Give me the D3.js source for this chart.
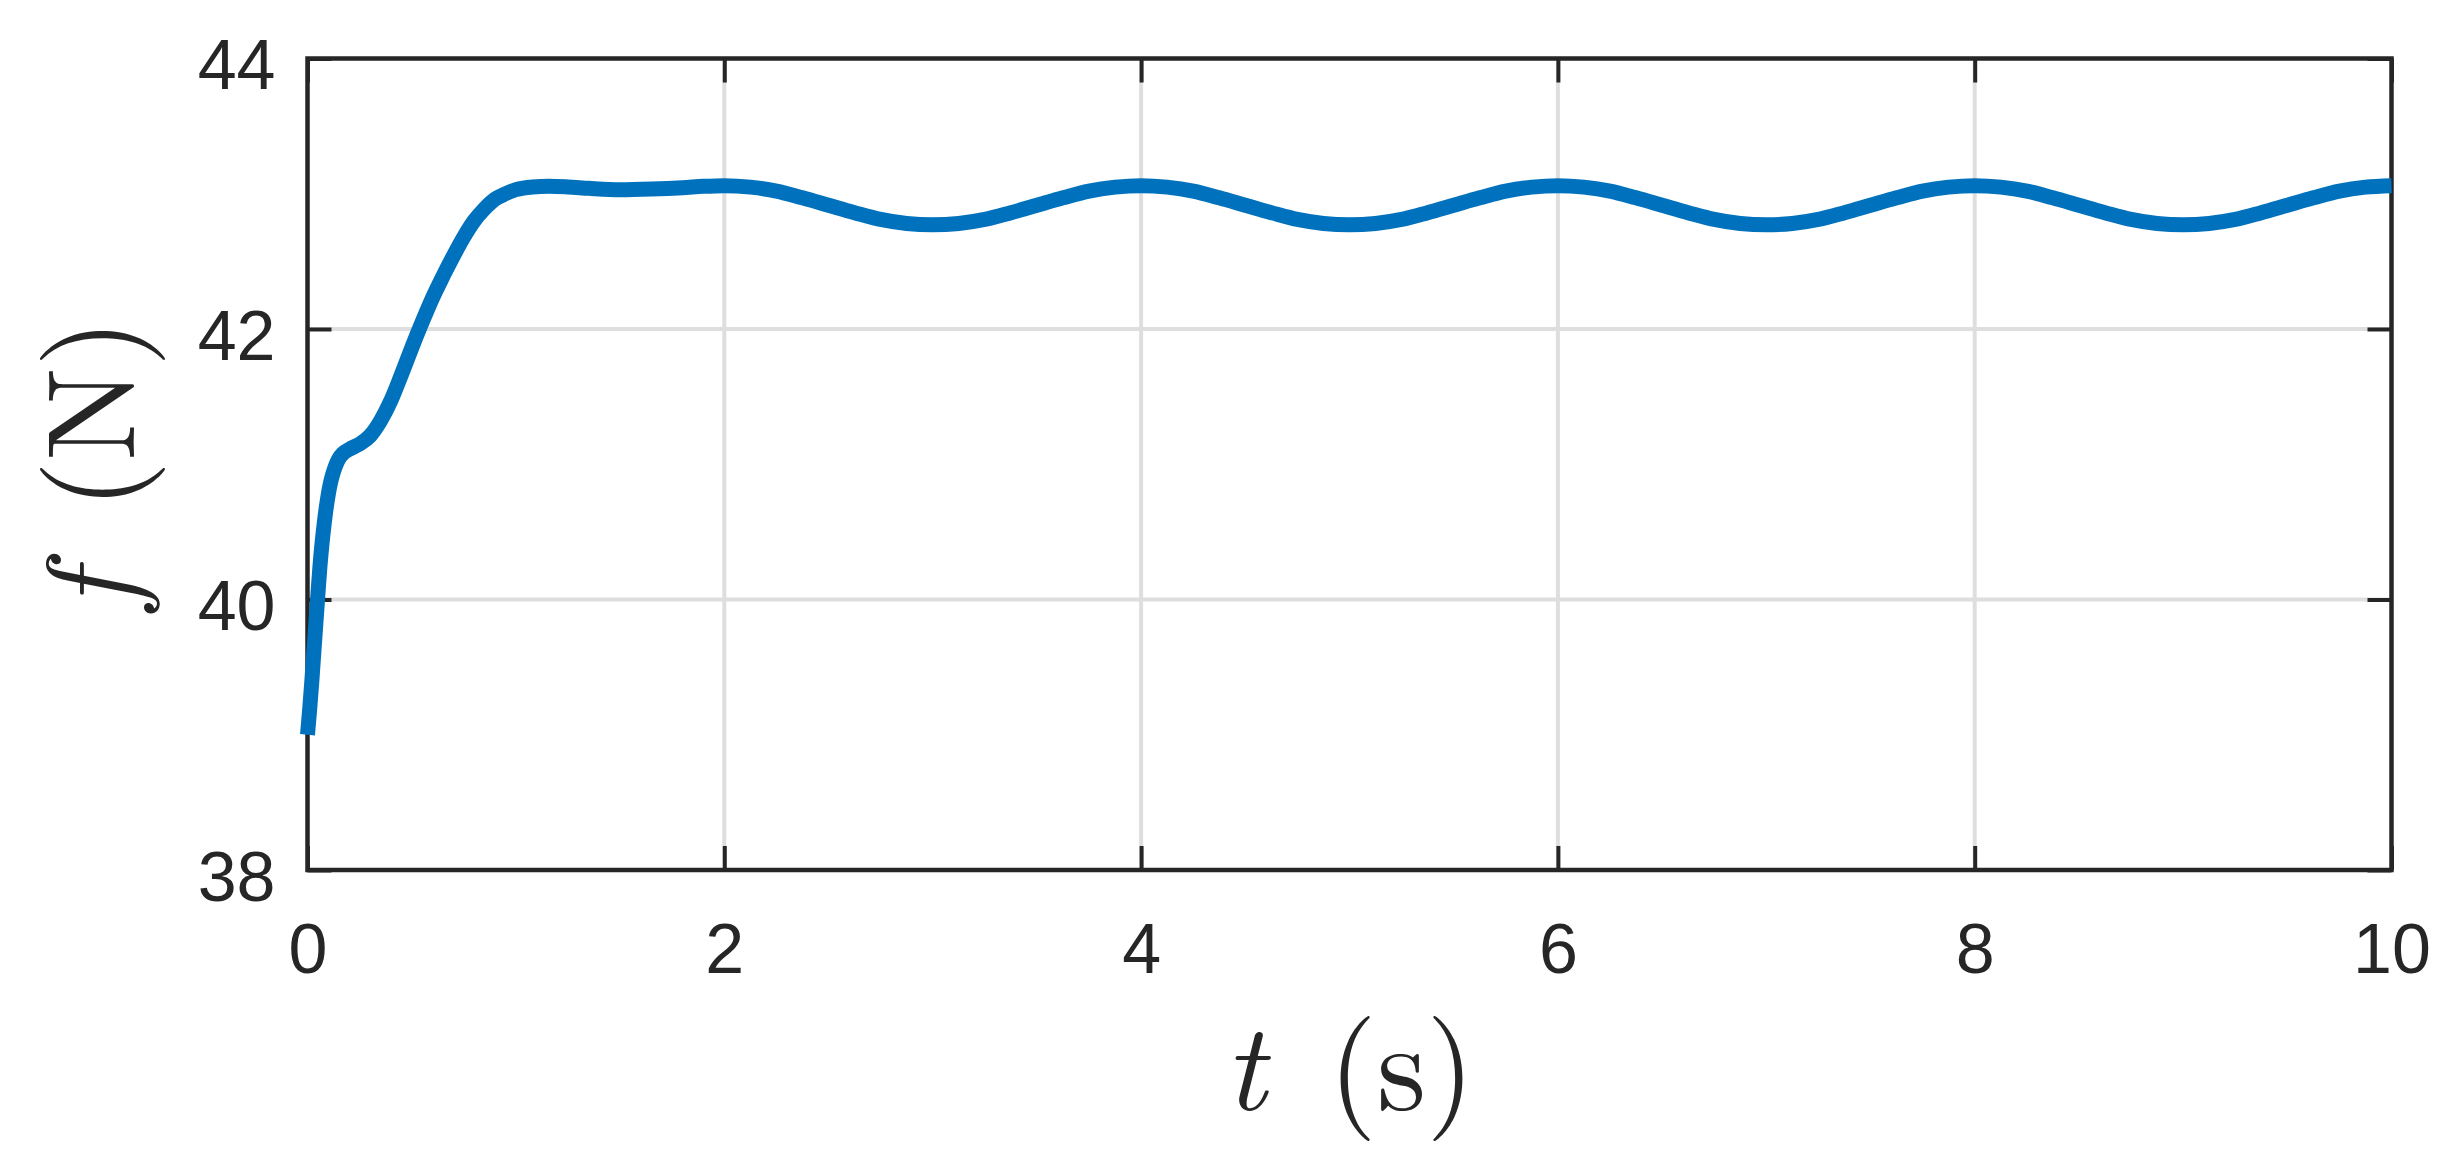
<!DOCTYPE html>
<html>
<head>
<meta charset="utf-8">
<script src="https://cdn.jsdelivr.net/npm/d3@7"></script>
<style>
  html, body { margin: 0; padding: 0; background: #fff; }
  svg { display: block; }
</style>
</head>
<body>
<svg id="chart" width="2457" height="1170"></svg>
<script>
// ---- data ----
const timeS = [
  0, 0.01, 0.02, 0.03, 0.04, 0.05, 0.06, 0.07, 0.08, 0.09, 0.10, 0.11, 0.12, 0.135, 0.15, 0.17,
  0.20, 0.25, 0.30, 0.35, 0.40, 0.45, 0.50, 0.55, 0.60, 0.65, 0.70, 0.75, 0.80, 0.85, 0.90, 0.95,
  1.00, 1.08, 1.16, 1.25, 1.35, 1.5, 1.65, 1.8, 1.9,
  2.0, 2.125, 2.25, 2.375, 2.5, 2.625, 2.75, 2.875,
  3.0, 3.125, 3.25, 3.375, 3.5, 3.625, 3.75, 3.875,
  4.0, 4.125, 4.25, 4.375, 4.5, 4.625, 4.75, 4.875,
  5.0, 5.125, 5.25, 5.375, 5.5, 5.625, 5.75, 5.875,
  6.0, 6.125, 6.25, 6.375, 6.5, 6.625, 6.75, 6.875,
  7.0, 7.125, 7.25, 7.375, 7.5, 7.625, 7.75, 7.875,
  8.0, 8.125, 8.25, 8.375, 8.5, 8.625, 8.75, 8.875,
  9.0, 9.125, 9.25, 9.375, 9.5, 9.625, 9.75, 9.875,
  10.0
];
const forceN = [
  39.0, 39.18, 39.38, 39.6, 39.82, 40.04, 40.25, 40.42, 40.56, 40.68, 40.78, 40.86, 40.92, 40.99, 41.04, 41.08,
  41.11, 41.15, 41.21, 41.32, 41.47, 41.66, 41.86, 42.05, 42.23, 42.39, 42.54, 42.68, 42.80, 42.89, 42.96, 43.00,
  43.03, 43.05, 43.055, 43.05, 43.04, 43.03, 43.035, 43.045, 43.055,
  43.06, 43.049, 43.02, 42.97, 42.915, 42.86, 42.81, 42.78,
  42.77, 42.78, 42.81, 42.86, 42.915, 42.97, 43.02, 43.049,
  43.06, 43.049, 43.02, 42.97, 42.915, 42.86, 42.81, 42.78,
  42.77, 42.78, 42.81, 42.86, 42.915, 42.97, 43.02, 43.049,
  43.06, 43.049, 43.02, 42.97, 42.915, 42.86, 42.81, 42.78,
  42.77, 42.78, 42.81, 42.86, 42.915, 42.97, 43.02, 43.049,
  43.06, 43.049, 43.02, 42.97, 42.915, 42.86, 42.81, 42.78,
  42.77, 42.78, 42.81, 42.86, 42.915, 42.97, 43.02, 43.049,
  43.06
];
const xTicks = [0, 2, 4, 6, 8, 10];
const yTicks = [38, 40, 42, 44];
const xDomain = [0, 10];
const yDomain = [38, 44];

// ---- layout ----
const pLeft = 307.5, pRight = 2391.5, pTop = 58.5, pBottom = 870;
const axisColor = "#262626";
const gridColor = "#dedede";
const lineColor = "#0072BD";
const tickLen = 24;

const svg = d3.select("#chart");
svg.append("rect").attr("width", 2457).attr("height", 1170).attr("fill", "#fff");

const x = d3.scaleLinear().domain(xDomain).range([pLeft, pRight]);
const y = d3.scaleLinear().domain(yDomain).range([pBottom, pTop]);

// grid
const grid = svg.append("g");
grid.selectAll("line.gx").data(xTicks.filter(d => d > xDomain[0] && d < xDomain[1]))
  .join("line").attr("class", "gx")
  .attr("x1", d => x(d)).attr("x2", d => x(d))
  .attr("y1", pTop).attr("y2", pBottom)
  .attr("stroke", gridColor).attr("stroke-width", 4);
grid.selectAll("line.gy").data(yTicks.filter(d => d > yDomain[0] && d < yDomain[1]))
  .join("line").attr("class", "gy")
  .attr("x1", pLeft).attr("x2", pRight)
  .attr("y1", d => y(d)).attr("y2", d => y(d))
  .attr("stroke", gridColor).attr("stroke-width", 4);

function styleAxis(g) {
  g.select(".domain").remove();
  g.selectAll(".tick line").attr("stroke", axisColor).attr("stroke-width", 4);
  g.selectAll(".tick text")
    .attr("fill", axisColor)
    .attr("font-family", "'Liberation Sans', Arial, Helvetica, sans-serif")
    .attr("font-size", 70);
}

const xAxisB = svg.append("g").attr("transform", `translate(0,${pBottom})`)
  .call(d3.axisBottom(x).tickValues(xTicks).tickSize(-tickLen).tickPadding(0).tickFormat(d3.format("d")));
styleAxis(xAxisB);
xAxisB.selectAll(".tick text").attr("dy", null).attr("y", 103);

const xAxisT = svg.append("g").attr("transform", `translate(0,${pTop})`)
  .call(d3.axisTop(x).tickValues(xTicks).tickSize(-tickLen).tickFormat(""));
styleAxis(xAxisT);

const yAxisL = svg.append("g").attr("transform", `translate(${pLeft},0)`)
  .call(d3.axisLeft(y).tickValues(yTicks).tickSize(-tickLen).tickPadding(0).tickFormat(d3.format("d")));
styleAxis(yAxisL);
yAxisL.selectAll(".tick text").attr("dy", null).attr("x", -32).attr("y", 30).attr("text-anchor", "end");

const yAxisR = svg.append("g").attr("transform", `translate(${pRight},0)`)
  .call(d3.axisRight(y).tickValues(yTicks).tickSize(-tickLen).tickFormat(""));
styleAxis(yAxisR);

// box
svg.append("rect")
  .attr("x", pLeft).attr("y", pTop)
  .attr("width", pRight - pLeft).attr("height", pBottom - pTop)
  .attr("fill", "none").attr("stroke", axisColor).attr("stroke-width", 4.5);

// data line
const pts = timeS.map((t, i) => [t, forceN[i]]);
const line = d3.line().x(d => x(d[0])).y(d => y(d[1])).curve(d3.curveMonotoneX);
svg.append("path").datum(pts)
  .attr("d", line)
  .attr("fill", "none")
  .attr("stroke", lineColor)
  .attr("stroke-width", 15)
  .attr("stroke-linejoin", "round")
  .attr("stroke-linecap", "butt");

// axis labels
const serif = "'Latin Modern Roman', 'CMU Serif', 'Liberation Serif', 'DejaVu Serif', serif";
const xl = svg.append("text")
  .attr("x", (pLeft + pRight) / 2).attr("y", 1110)
  .attr("text-anchor", "middle")
  .attr("font-family", serif).attr("font-size", 125).attr("fill", axisColor);
xl.append("tspan").attr("font-style", "italic").text("t");
xl.append("tspan").text("\u2002(s)");

const yl = svg.append("text")
  .attr("transform", `translate(134,${(pTop + pBottom) / 2}) rotate(-90)`)
  .attr("text-anchor", "middle")
  .attr("font-family", serif).attr("font-size", 125).attr("fill", axisColor);
yl.append("tspan").attr("font-style", "italic").text("f");
yl.append("tspan").text("\u2002(N)");
</script>
</body>
</html>
